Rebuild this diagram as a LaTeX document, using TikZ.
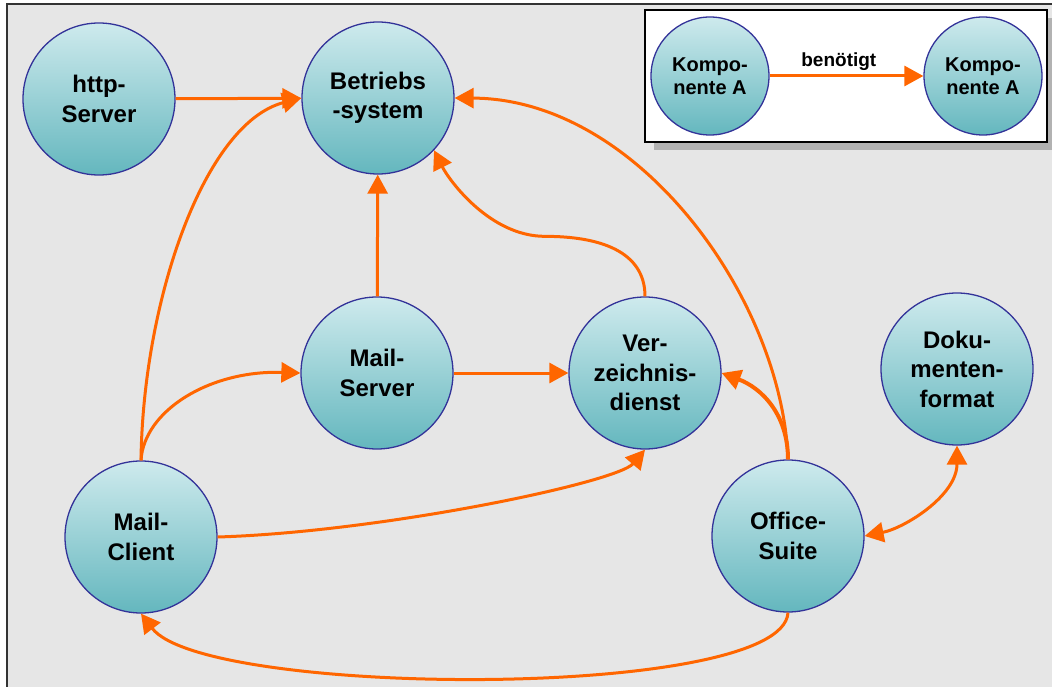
\documentclass[tikz,border=0pt]{standalone}
\usepackage{fontspec}
\setmainfont{Liberation Sans}
\usetikzlibrary{arrows.meta}

\definecolor{bgray}{RGB}{230,230,230}
\definecolor{framegray}{RGB}{51,51,51}
\definecolor{shadowgray}{RGB}{178,178,178}
\definecolor{discline}{RGB}{51,51,153}
\definecolor{disctop}{RGB}{206,234,237}
\definecolor{discbottom}{RGB}{100,183,190}
\definecolor{deporange}{RGB}{255,102,0}

\begin{document}
\begin{tikzpicture}[x=1pt,y=-1pt,
  comp/.style={circle, draw=discline, line width=1.3pt,
    top color=disctop, bottom color=discbottom,
    minimum size=152pt, inner sep=0pt, align=center,
    font=\fontsize{24}{29.5}\selectfont\bfseries},
  legcomp/.style={comp, minimum size=118pt,
    font=\fontsize{20}{23}\selectfont\bfseries},
  dep/.style={draw=deporange, line width=3pt,
    -{Triangle[length=19pt,width=20pt]}},
  mutual/.style={draw=deporange, line width=3pt,
    {Triangle[length=19pt,width=20pt]}-{Triangle[length=19pt,width=20pt]}},
]
\useasboundingbox (0,0) rectangle (1052,687);
\clip (0,0) rectangle (1052,687);

% page and framed grey panel
\fill[white] (0,0) rectangle (1052,687);
\draw[framegray, line width=2pt, fill=bgray] (7,4) rectangle (1075,710);

% legend box with drop shadow
\fill[shadowgray] (654,18) rectangle (1060,150);
\draw[black, line width=1.5pt, fill=white] (645,10) rectangle (1047,142);
\node[legcomp] (la) at (710,76) {Kompo-\\nente A};
\node[legcomp] (lb) at (983,76) {Kompo-\\nente A};
\draw[dep] (la) -- node[pos=0.45, above, inner sep=4pt,
  font=\fontsize{19}{22}\selectfont\bfseries] (lbl) {benötigt} (lb);

% components
\node[comp] (hs) at (99,99)   {http-\\Server};
\node[comp] (bs) at (378,98)  {Betriebs\\-system};
\node[comp] (ms) at (377,373) {Mail-\\Server};
\node[comp] (vz) at (645,373) {Ver-\\zeichnis-\\dienst};
\node[comp] (dk) at (957,369) {Doku-\\menten-\\format};
\node[comp] (mc) at (141,537) {Mail-\\Client};
\node[comp] (oc) at (788,536) {Office-\\Suite};

% dependencies
\draw[dep] (hs) -- (bs);
\draw[dep] (ms) -- (bs);
\draw[dep] (ms) -- (vz);
\draw[dep] (vz.north) .. controls +(0,-45) and +(55,0) .. ++(-100,-60)
  .. controls +(-55,0) and +(15,30) .. (bs.-43);
\draw[dep] (oc.north) .. controls +(-6,-160) and +(184,1) .. (bs.east);
\draw[dep, line width=4pt] (oc.north) .. controls +(0,-45) and +(40,15) .. (vz.east);
\draw[dep] (mc.north) .. controls +(2,-160) and +(-97,25) .. (bs.west);
\draw[dep] (mc.north) .. controls +(3,-50) and +(-90,-3) .. (ms.west);
\draw[dep] (mc.east) .. controls +(163,-5) and +(-28,33) .. (vz.south);
\draw[dep] (oc.south) .. controls +(-5,88) and +(64,84) .. (mc.south);
\draw[mutual] (oc.east) .. controls +(40,-8) and +(0,50) .. (dk.south);
\end{tikzpicture}
\end{document}
